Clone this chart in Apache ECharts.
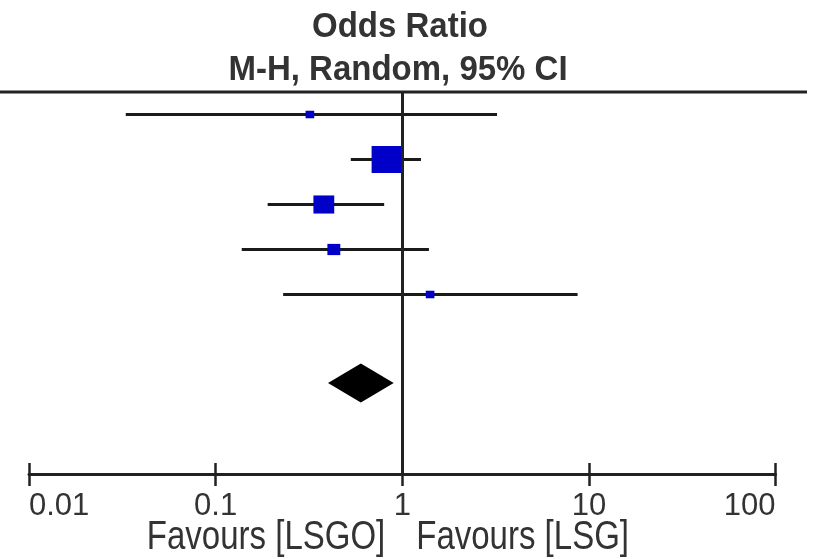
<!DOCTYPE html>
<html><head><meta charset="utf-8">
<script src="https://cdn.jsdelivr.net/npm/echarts@6/dist/echarts.min.js"></script>
<style>html,body{margin:0;padding:0;background:#fff}#c{width:813px;height:559px}</style>
</head><body><div id="c"></div>
<script>
// Study rows (labels are cropped off in the reference)
const studyRows = [1, 2, 3, 4, 5];
const oddsRatio = [0.32, 0.83, 0.38, 0.43, 1.41];
const ciLower   = [0.033, 0.53, 0.19, 0.138, 0.23];
const ciUpper   = [3.22, 1.26, 0.80, 1.39, 8.7];
const weights   = [4.5, 58.0, 26.0, 10.0, 4.5];
// Pooled estimate (diamond)
const totalRow = 7;
const totalOR = 0.60, totalLower = 0.40, totalUpper = 0.90;
const tickValues = [0.01, 0.1, 1, 10, 100];
const tickLabels = ['0.01', '0.1', '1', '10', '100'];
const titleLines = ['Odds Ratio', 'M-H, Random, 95% CI'];
const favourLeft = 'Favours [LSGO]', favourRight = 'Favours [LSG]';

const FONT = '"Liberation Sans", Arial, sans-serif';
const chart = echarts.init(document.getElementById('c'), null, {renderer: 'canvas'});

const studyData = studyRows.map((r, i) => [oddsRatio[i], r, ciLower[i], ciUpper[i], weights[i]]);

const labelMap = {};
tickValues.forEach((v, i) => labelMap[v] = tickLabels[i]);

const option = {
  animation: false,
  grid: {left: 29, right: 37.5, top: 92, bottom: 85},
  xAxis: [{
    type: 'log', logBase: 10, min: 0.01, max: 100,
    axisLine: {show: true, lineStyle: {color: '#222', width: 3}},
    axisTick: {show: true, length: 12, lineStyle: {color: '#222', width: 2.5}},
    minorTick: {show: false},
    splitLine: {show: false},
    axisLabel: {
      show: true, margin: 17, fontFamily: FONT, fontSize: 31, color: '#333',
      alignMinLabel: 'left', alignMaxLabel: 'right',
      formatter: v => labelMap[+v.toPrecision(6)] ?? ''
    }
  }, {
    type: 'log', logBase: 10, min: 0.01, max: 100, position: 'bottom',
    axisLine: {show: false},
    axisTick: {show: true, inside: true, length: 11, lineStyle: {color: '#222', width: 2.5}},
    splitLine: {show: false},
    axisLabel: {show: false}
  }],
  yAxis: {
    type: 'value', min: 0.5, max: 0.5 + 382 / 45, inverse: true, show: false
  },
  series: [{
    type: 'custom',
    coordinateSystem: 'cartesian2d',
    data: studyData,
    encode: {x: 0, y: 1},
    renderItem: (params, api) => {
      const or = api.value(0), row = api.value(1), lo = api.value(2), hi = api.value(3), w = api.value(4);
      const p0 = api.coord([lo, row]), p1 = api.coord([hi, row]), pc = api.coord([or, row]);
      const h = 3.55 * Math.sqrt(w), wd = h * 1.15;
      return {
        type: 'group',
        children: [
          {type: 'line', shape: {x1: p0[0], y1: p0[1], x2: p1[0], y2: p1[1]}, style: {stroke: '#1a1a1a', lineWidth: 3}},
          {type: 'rect', shape: {x: pc[0] - wd / 2, y: pc[1] - h / 2, width: wd, height: h}, style: {fill: '#0000c8'}}
        ]
      };
    },
    markLine: {
      silent: true, symbol: 'none', label: {show: false},
      lineStyle: {color: '#222', width: 3, type: 'solid'},
      data: [{xAxis: 1}]
    },
    z: 3
  }, {
    type: 'custom',
    coordinateSystem: 'cartesian2d',
    data: [[totalOR, totalRow, totalLower, totalUpper]],
    encode: {x: 0, y: 1},
    renderItem: (params, api) => {
      const or = api.value(0), row = api.value(1), lo = api.value(2), hi = api.value(3);
      const pl = api.coord([lo, row]), pr = api.coord([hi, row]), pc = api.coord([or, row]);
      const hh = 19.5;
      return {
        type: 'polygon',
        shape: {points: [[pl[0], pl[1] - 1.5], [pc[0], pc[1] - hh - 1.5], [pr[0], pr[1] - 1.5], [pc[0], pc[1] + hh - 1.5]]},
        style: {fill: '#000'}
      };
    },
    z: 4
  }]
};
chart.setOption(option);

const x1 = chart.convertToPixel({xAxisIndex: 0}, 1);
chart.setOption({
  graphic: [
    {type: 'line', shape: {x1: 0, y1: 92, x2: 807, y2: 92}, style: {stroke: '#222', lineWidth: 3}, z: 10},
    {type: 'text', x: 400, y: 27, scaleY: 1.06, style: {text: titleLines[0], fontFamily: FONT, fontWeight: 'bold', fontSize: 33, fill: '#333', align: 'center', verticalAlign: 'middle'}},
    {type: 'text', x: 398, y: 70, scaleY: 1.06, style: {text: titleLines[1], fontFamily: FONT, fontWeight: 'bold', fontSize: 33, fill: '#333', align: 'center', verticalAlign: 'middle'}},
    {type: 'text', x: x1 - 17, y: 538, scaleY: 1.22, style: {text: favourLeft, fontFamily: FONT, fontSize: 33, fill: '#333', align: 'right', verticalAlign: 'middle'}},
    {type: 'text', x: x1 + 14, y: 538, scaleY: 1.22, style: {text: favourRight, fontFamily: FONT, fontSize: 33, fill: '#333', align: 'left', verticalAlign: 'middle'}}
  ]
});
</script></body></html>
